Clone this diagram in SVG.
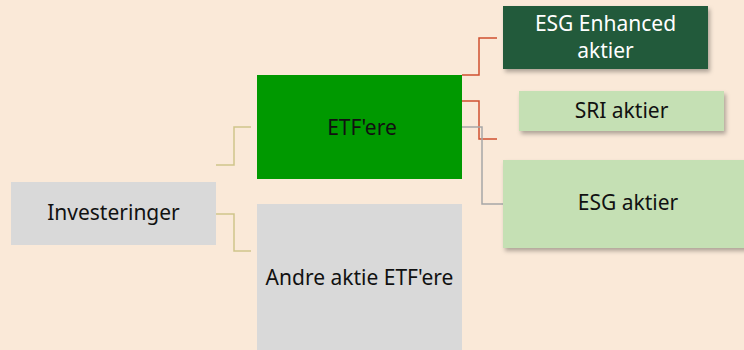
<svg xmlns="http://www.w3.org/2000/svg" width="744" height="350" viewBox="0 0 744 350">
<defs>
<style>
.t{font-family:"Noto Sans","Open Sans","Liberation Sans",sans-serif;font-size:21px;text-anchor:middle}
.dk{fill:#111}
.wt{fill:#fff}
.c{fill:none;stroke-width:1.5}
</style>
<filter id="sh" x="-10%" y="-10%" width="130%" height="140%">
<feDropShadow dx="2" dy="3" stdDeviation="2" flood-color="#000" flood-opacity="0.3"/>
</filter>
</defs>
<rect width="744" height="350" fill="#FAE9D8"/>
<g id="connectors">
<path class="c" stroke="#CFC58A" d="M216,165 H234 V127 H251"/>
<path class="c" stroke="#CFC58A" d="M216,214 H234 V251 H251"/>
<path class="c" stroke="#D0502F" d="M462,75 H479 V38 H497"/>
<path class="c" stroke="#D0502F" d="M462,101 H479 V139 H497"/>
<path class="c" stroke="#A6A6A6" d="M462,127 H482 V204 H503"/>
</g>
<g id="investeringer">
<rect x="11" y="182" width="205" height="63" fill="#D9D9D9"/>
<text class="t dk" x="113.5" y="220">Investeringer</text>
</g>
<g id="etfere">
<rect x="257" y="75" width="205" height="104" fill="#009900"/>
<text class="t dk" x="362" y="135">ETF'ere</text>
</g>
<g id="andre">
<rect x="257" y="204" width="205" height="150" fill="#D9D9D9"/>
<text class="t dk" x="359.5" y="285">Andre aktie ETF'ere</text>
</g>
<g id="esgenhanced">
<rect x="503" y="6" width="205" height="63" fill="#245A3A" filter="url(#sh)"/>
<text class="t wt" x="605.5" y="31">ESG Enhanced</text>
<text class="t wt" x="605.5" y="58">aktier</text>
</g>
<g id="sri">
<rect x="519" y="91" width="205" height="40" fill="#C5E0B4" filter="url(#sh)"/>
<text class="t dk" x="621.5" y="118">SRI aktier</text>
</g>
<g id="esg">
<rect x="503" y="160" width="260" height="88" fill="#C5E0B4" filter="url(#sh)"/>
<text class="t dk" x="628" y="210">ESG aktier</text>
</g>
</svg>
